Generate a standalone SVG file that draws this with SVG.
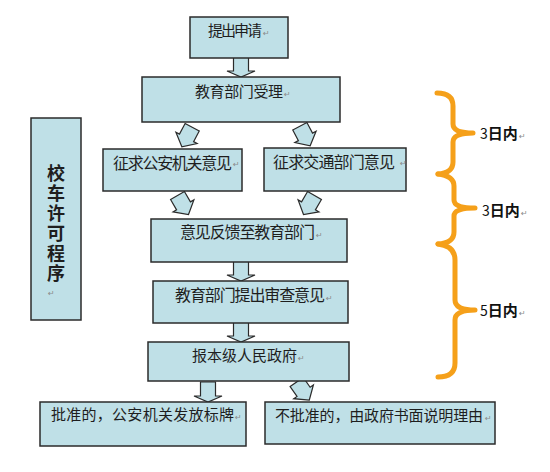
<svg xmlns="http://www.w3.org/2000/svg" width="550" height="472" viewBox="0 0 550 472">
<style>
.box{fill:#bfe0e7;stroke:#2b2b2b;stroke-width:1.5}
.t{font-family:"Noto Sans CJK SC","Noto Sans",sans-serif;fill:#1e1e1e}
.t15{font-size:15px}
.t16{font-size:16px}
.pm{font-family:"DejaVu Sans",sans-serif;font-size:8px;fill:#8a8a8a}
.arr{fill:#bfe0e7;stroke:#2b2b2b;stroke-width:1.2;stroke-linejoin:miter}
.brace{fill:none;stroke:#f5a01a;stroke-width:5;stroke-linecap:round;stroke-linejoin:round}
.lbl{font-family:"Noto Sans CJK SC","Noto Sans",sans-serif;font-size:15px;fill:#111}
</style>
<defs>
<path id="va" d="M-7.5,-10 H7.5 V4 H14 L0,10 L-14,4 H-7.5 Z"/>
<path id="da" d="M-8,-11 H8 V1 H12 L0,11 L-12,1 H-8 Z"/>
</defs>
<rect width="550" height="472" fill="#ffffff"/>

<g id="side">
<rect class="box" x="31" y="118" width="50" height="202"/>
<text class="t" style="font-size:18px;font-weight:bold;writing-mode:vertical-rl;letter-spacing:2px" x="56" y="164">校车许可程序</text>
<text class="pm" x="48" y="296">↵</text>
</g>

<g id="connectors">
<use href="#va" class="arr" x="241" y="67"/>
<use href="#da" class="arr" transform="translate(187,137) rotate(28)"/>
<use href="#da" class="arr" transform="translate(305,136) rotate(-28)"/>
<use href="#da" class="arr" transform="translate(183,205) rotate(-30)"/>
<use href="#da" class="arr" transform="translate(309,205) rotate(30)"/>
<use href="#va" class="arr" x="241" y="271"/>
<use href="#va" class="arr" x="241" y="332"/>
<use href="#va" class="arr" x="208" y="392"/>
<use href="#da" class="arr" transform="translate(303,391) rotate(-35)"/>
</g>

<g id="n1">
<rect class="box" x="190" y="17" width="98" height="41"/>
<text class="t t15" x="208" y="36" textLength="54" lengthAdjust="spacing">提出申请</text>
<text class="pm" x="263" y="36">↵</text>
</g>
<g id="n2">
<rect class="box" x="142" y="77" width="198" height="45"/>
<text class="t t15" x="195" y="97" textLength="88" lengthAdjust="spacing">教育部门受理</text>
<text class="pm" x="284" y="97">↵</text>
</g>
<g id="n3">
<rect class="box" x="103" y="149" width="139" height="42"/>
<text class="t t16" x="113" y="169" textLength="119" lengthAdjust="spacing">征求公安机关意见</text>
<text class="pm" x="233" y="167">↵</text>
</g>
<g id="n4">
<rect class="box" x="264" y="148" width="142" height="43"/>
<text class="t t16" x="273" y="168" textLength="122" lengthAdjust="spacing">征求交通部门意见</text>
<text class="pm" x="400" y="166">↵</text>
</g>
<g id="n5">
<rect class="box" x="151" y="219" width="196" height="43"/>
<text class="t t16" x="180" y="238" textLength="135" lengthAdjust="spacing">意见反馈至教育部门</text>
<text class="pm" x="316" y="238">↵</text>
</g>
<g id="n6">
<rect class="box" x="153" y="281" width="195" height="42"/>
<text class="t t16" x="175" y="301" textLength="150" lengthAdjust="spacing">教育部门提出审查意见</text>
<text class="pm" x="326" y="301">↵</text>
</g>
<g id="n7">
<rect class="box" x="148" y="342" width="201" height="39"/>
<text class="t t15" x="192" y="361" textLength="105" lengthAdjust="spacing">报本级人民政府</text>
<text class="pm" x="298" y="361">↵</text>
</g>
<g id="n8">
<rect class="box" x="40" y="402" width="206" height="44"/>
<text class="t t15" x="51" y="420" textLength="183" lengthAdjust="spacing">批准的，公安机关发放标牌</text>
<text class="pm" x="235" y="420">↵</text>
</g>
<g id="n9">
<rect class="box" x="265" y="402" width="230" height="42"/>
<text class="t t15" x="275" y="421" textLength="208" lengthAdjust="spacing">不批准的，由政府书面说明理由</text>
<text class="pm" x="485" y="421">↵</text>
</g>

<g id="braces">
<path class="brace" d="M437,93 Q453,93 453,106 L453,124 Q453,133 473,133 Q453,133 453,142 L453,162 Q453,173 438,174"/>
<path class="brace" d="M438,174 Q454,176 454,186 L454,200 Q454,208 475,208 Q454,208 454,216 L454,232 Q454,243 438,244"/>
<path class="brace" d="M438,244 Q455,246 455,260 L455,300 Q455,310 475,310 Q455,310 455,320 L455,363 Q455,377 438,377"/>
</g>
<g id="labels">
<text class="lbl" x="480" y="139"><tspan style="font-size:14px">3</tspan><tspan font-weight="bold">日内</tspan></text>
<text class="pm" x="519" y="139">↵</text>
<text class="lbl" x="482" y="216"><tspan style="font-size:14px">3</tspan><tspan font-weight="bold">日内</tspan></text>
<text class="pm" x="521" y="216">↵</text>
<text class="lbl" x="480" y="316"><tspan style="font-size:14px">5</tspan><tspan font-weight="bold">日内</tspan></text>
<text class="pm" x="519" y="316">↵</text>
</g>
</svg>
